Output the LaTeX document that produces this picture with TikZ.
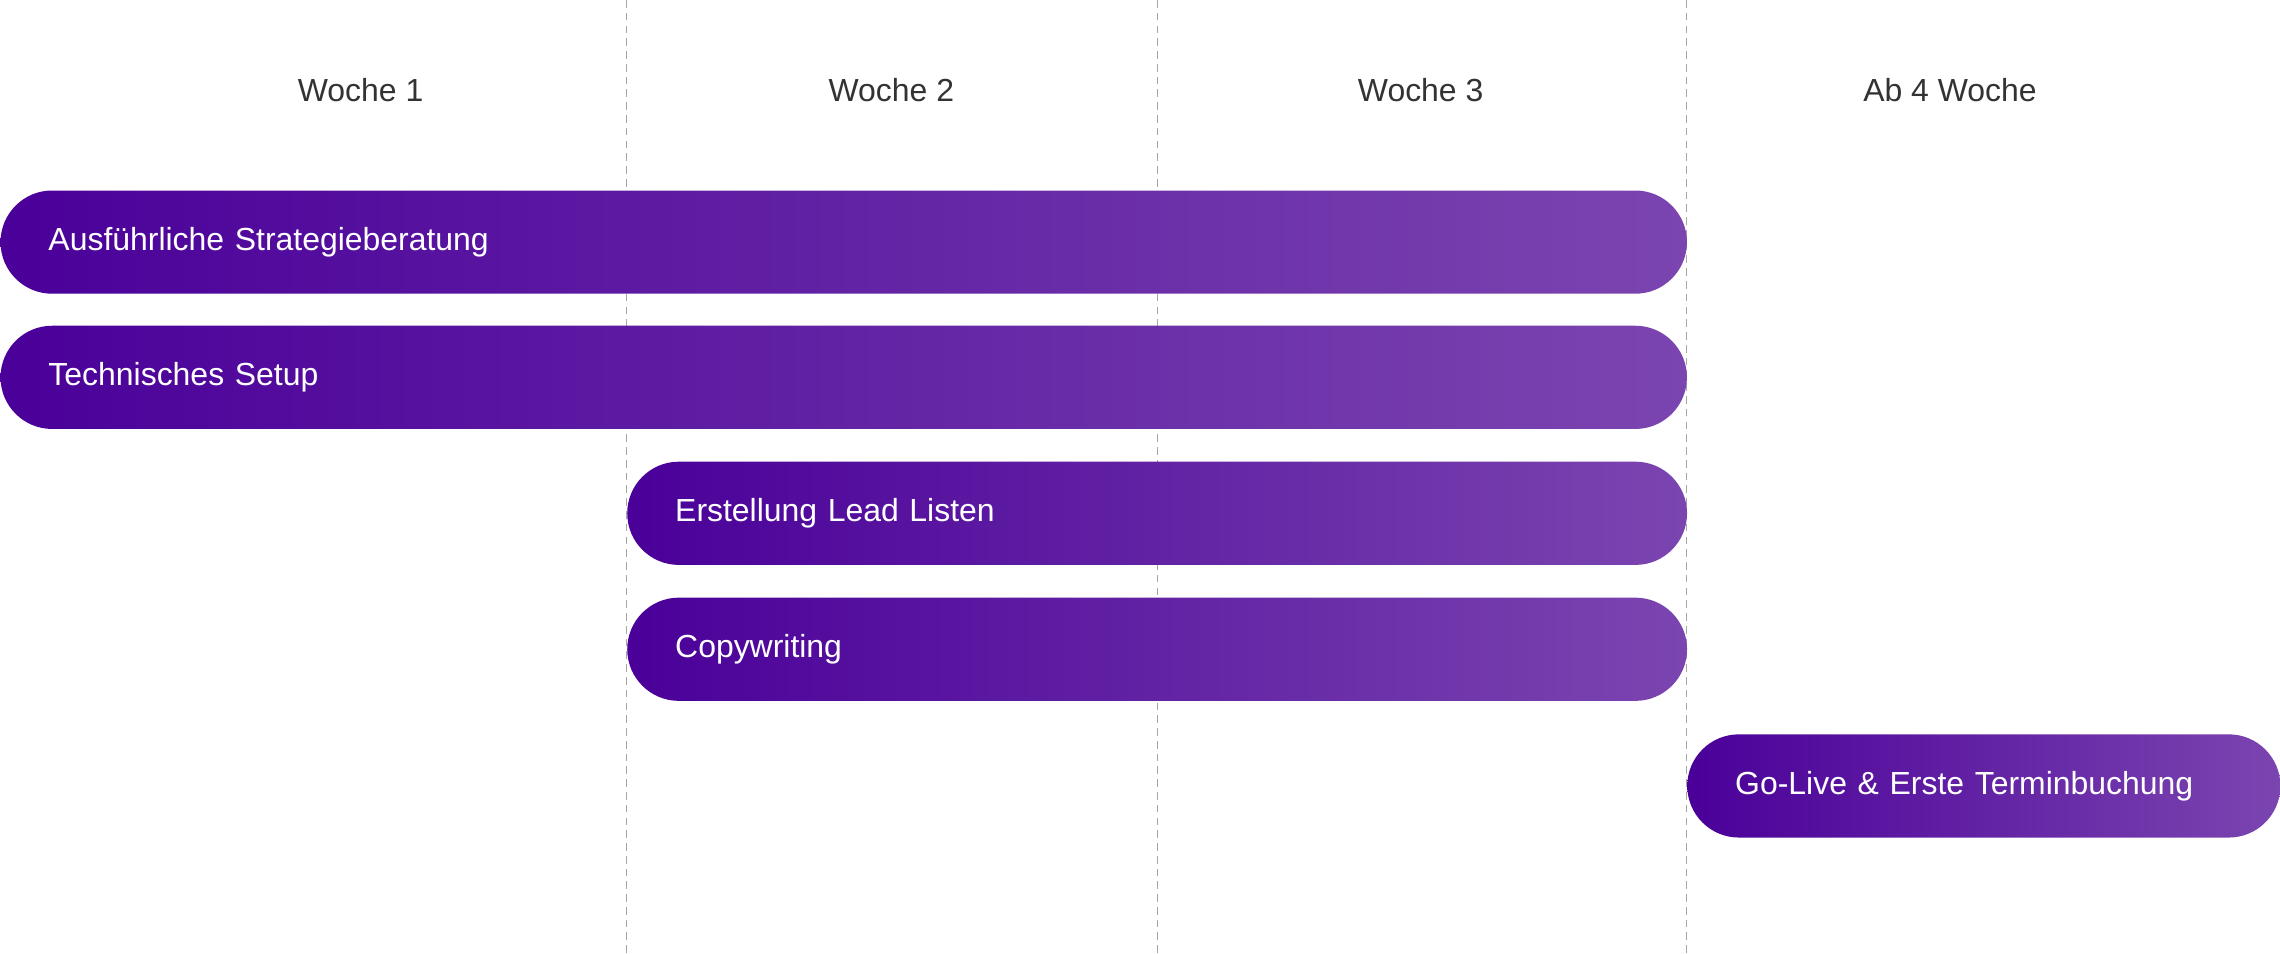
\documentclass[tikz,border=0pt]{standalone}
\usepackage{fontspec}
\setmainfont{Liberation Sans}
\definecolor{barstart}{HTML}{4A0099}
\definecolor{barend}{HTML}{7B45B0}
\definecolor{headgray}{HTML}{333333}

\begin{document}
\begin{tikzpicture}[
          x=0.02cm, y=-0.02cm,
          grid/.style={densely dashed,gray!70,thin},
          head/.style={text=headgray,font=\fontsize{12.5}{15}\selectfont},
          bar/.style={anchor=west,left color=barstart,right color=barend,
            rounded corners=0.71cm,minimum height=1.42cm,inner xsep=0.66cm,
            text=white,align=left,font=\fontsize{12.5}{15}\selectfont},
        ]

        \useasboundingbox (0,0) rectangle (1568,656);

        \draw[grid] (431,0) -- (431,656);
        \draw[grid] (796,0) -- (796,656);
        \draw[grid] (1160,0) -- (1160,656);

        \node[head] (w1) at (248,62) {Woche 1};
        \node[head] (w2) at (613,62) {Woche 2};
        \node[head] (w3) at (977,62) {Woche 3};
        \node[head] (w4) at (1341,62) {Ab 4 Woche};

        \node[bar,text width=21.88cm] (strategie) at (0,166.5) {Ausführliche Strategieberatung};
        \node[bar,text width=21.88cm] (setup) at (0,259.5) {Technisches Setup};
        \node[bar,text width=13.26cm] (leads) at (431,353) {Erstellung Lead Listen};
        \node[bar,text width=13.26cm] (copy) at (431,446.5) {Copywriting};
        \node[bar,text width=6.84cm] (golive) at (1160,540.5) {Go-Live \& Erste Terminbuchung};

      \end{tikzpicture}
\end{document}
